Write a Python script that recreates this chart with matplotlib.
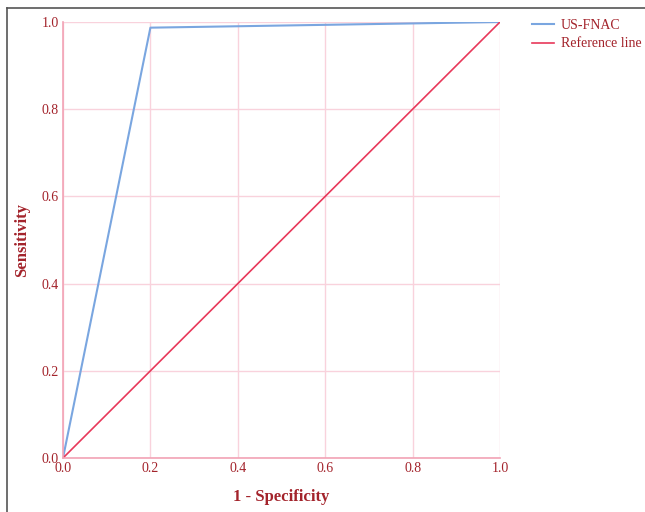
import matplotlib
matplotlib.use('Agg')
import matplotlib.pyplot as plt
from matplotlib.lines import Line2D

# ROC data
fpr = [0.0, 0.2, 1.0]
tpr = [0.0, 0.987, 1.0]
ref_x = [0.0, 1.0]
ref_y = [0.0, 1.0]
ticks = [0.0, 0.2, 0.4, 0.6, 0.8, 1.0]
tick_labels = ['0.0', '0.2', '0.4', '0.6', '0.8', '1.0']

plt.rcParams['font.family'] = ['Liberation Serif', 'DejaVu Serif']
text_col = '#a3232b'
grid_col = '#f9d2dc'

fig = plt.figure(figsize=(6.45, 5.12), dpi=100)
ax = fig.add_axes([63 / 645, 1 - 458 / 512, 437 / 645, 436 / 512])

ax.plot(fpr, tpr, color='#7aa6e0', lw=1.5, label='US-FNAC')
ax.plot(ref_x, ref_y, color='#e8385a', lw=1.2, label='Reference line')

ax.set_xlim(0, 1)
ax.set_ylim(0, 1)
ax.set_xticks(ticks)
ax.set_xticklabels(tick_labels)
ax.set_yticks(ticks)
ax.set_yticklabels(tick_labels)
ax.tick_params(length=0, colors=text_col, labelsize=10, pad=3)
ax.grid(True, color=grid_col, lw=1)
ax.set_axisbelow(True)
for side in ['top', 'right']:
    ax.spines[side].set_visible(False)
for side in ['left', 'bottom']:
    ax.spines[side].set_color('#f2a3b5')
    ax.spines[side].set_linewidth(1.2)

ax.set_xlabel('1 - Specificity', color=text_col, fontsize=12, fontweight='bold', labelpad=10)
ax.set_ylabel('Sensitivity', color=text_col, fontsize=12, fontweight='bold', labelpad=8)

leg = ax.legend(loc='upper left', bbox_to_anchor=(1.06, 1.02), frameon=False,
                fontsize=10, handlelength=1.6, handletextpad=0.5, labelspacing=0.4,
                borderaxespad=0)
for t in leg.get_texts():
    t.set_color(text_col)

# frame of the original picture (top and left only)
fig.add_artist(Line2D([7 / 645, 1], [1 - 8 / 512, 1 - 8 / 512], transform=fig.transFigure,
                      color='#555555', lw=1.2))
fig.add_artist(Line2D([7 / 645, 7 / 645], [0, 1 - 8 / 512], transform=fig.transFigure,
                      color='#555555', lw=1.2))

fig.savefig('out.png', dpi=100)
